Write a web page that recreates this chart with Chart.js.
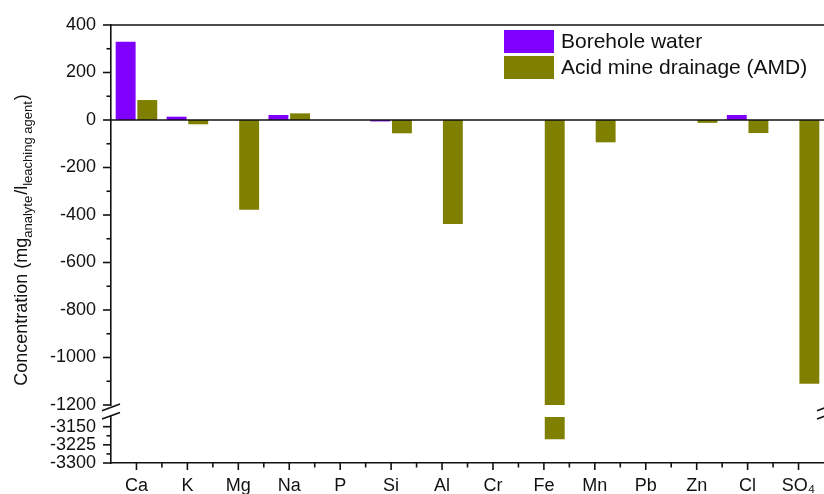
<!DOCTYPE html>
<html>
<head>
<meta charset="utf-8">
<script src="https://cdn.jsdelivr.net/npm/chart.js@4.4.1/dist/chart.umd.min.js"></script>
<style>
  html, body { margin: 0; padding: 0; background: #ffffff; }
  #wrap { width: 824px; height: 494px; position: relative; }
</style>
</head>
<body>
<div id="wrap"><canvas id="chart"></canvas></div>
<script>
// Elements analysed
const elements = ['Ca', 'K', 'Mg', 'Na', 'P', 'Si', 'Al', 'Cr', 'Fe', 'Mn', 'Pb', 'Zn', 'Cl', 'SO₄'];

// Concentration change, mg analyte per litre of leaching agent
const boreholeWater    = [329, 14, 0, 21, 0, -6, 0, 0, 0, 0, 0, 0, 21, 0];
const acidMineDrainage = [84, -18, -378, 28, 0, -56, -438, 0, -3202, -94, 0, -12, -55, -1110];

// Broken value axis: upper and lower segments
const upperTicks = [400, 200, 0, -200, -400, -600, -800, -1000, -1200];
const lowerTicks = [-3150, -3225, -3300];
const upperRange = [-1200, 400];
const lowerRange = [-3300, -3110];

const seriesLabels = ['Borehole water', 'Acid mine drainage (AMD)'];
const seriesColors = ['#8000ff', '#808000'];

const FONT = "'Liberation Sans', Arial, Helvetica, sans-serif";

// Bars in the upper segment stop at the break; the rest continues below it
const amdUpper = acidMineDrainage.map(v => Math.max(v, upperRange[0]));
const amdLower = acidMineDrainage.map(v => v < lowerRange[1] ? [lowerRange[1], v] : null);
const bhUpper  = boreholeWater.map(v => Math.max(v, upperRange[0]));

function line(ctx, x1, y1, x2, y2) {
  ctx.beginPath(); ctx.moveTo(x1, y1); ctx.lineTo(x2, y2); ctx.stroke();
}

// Frame, zero line, tick marks and axis-break symbols
const axisDecor = {
  id: 'axisDecor',
  afterDatasetsDraw(chart) {
    const { ctx, chartArea: a, scales } = chart;
    const x = scales.x, yU = scales.yUp, yL = scales.yLow;
    ctx.save();
    ctx.strokeStyle = '#111';
    ctx.lineWidth = 1.6;
    ctx.lineCap = 'butt';

    // zero line and top frame
    const y0 = yU.getPixelForValue(0);
    line(ctx, a.left, y0, a.right, y0);
    line(ctx, a.left, a.top, a.right, a.top);

    // value-axis ticks (outward)
    const axisX = yU.right;
    const majorLen = 8, minorLen = 4.5;
    const drawY = (scale, majors) => {
      majors.forEach(v => {
        const p = scale.getPixelForValue(v);
        line(ctx, axisX - majorLen, p, axisX, p);
      });
      for (let i = 0; i < majors.length - 1; i++) {
        const p = scale.getPixelForValue((majors[i] + majors[i + 1]) / 2);
        line(ctx, axisX - minorLen, p, axisX, p);
      }
    };
    drawY(yU, upperTicks);
    drawY(yL, lowerTicks);

    // category-axis ticks: major at centres, minor at boundaries
    const axisY = x.top;
    const half = (x.getPixelForValue(1) - x.getPixelForValue(0)) / 2;
    elements.forEach((_, i) => {
      const p = x.getPixelForValue(i);
      line(ctx, p, axisY, p, axisY + 7);
      if (i > 0) line(ctx, p - half, axisY, p - half, axisY + 4.5);
    });

    // break symbols on both vertical axes
    const g0 = yU.bottom, g1 = yL.top;
    const slash = (cx, cy) => line(ctx, cx - 9, cy + 3.3, cx + 9, cy - 3.3);
    [axisX, a.right + 2].forEach(cx => {
      slash(cx, g0 + 2.4);
      slash(cx, g1 - 1.3);
    });
    ctx.restore();
  }
};

// Legend in the top-right corner of the plot
const innerLegend = {
  id: 'innerLegend',
  afterDraw(chart) {
    const { ctx } = chart;
    ctx.save();
    ctx.font = `21px ${FONT}`;
    ctx.textBaseline = 'middle';
    seriesLabels.forEach((label, i) => {
      const top = 30 + i * 26;
      ctx.fillStyle = seriesColors[i];
      ctx.fillRect(504, top, 50, 23);
      ctx.fillStyle = '#111';
      ctx.fillText(label, 561, top + 12.5);
    });
    ctx.restore();
  }
};

// Rotated value-axis title with subscripts
const axisTitle = {
  id: 'axisTitle',
  afterDraw(chart) {
    const { ctx, chartArea: a } = chart;
    const parts = [
      ['Concentration (mg', false],
      ['analyte', true],
      ['/l', false],
      ['leaching agent', true],
      [')', false]
    ];
    const big = `18px ${FONT}`, small = `13px ${FONT}`;
    ctx.save();
    let total = 0;
    parts.forEach(([t, sub]) => { ctx.font = sub ? small : big; total += ctx.measureText(t).width; });
    const cy = (a.top + a.bottom) / 2 - 3;
    ctx.translate(27, cy);
    ctx.rotate(-Math.PI / 2);
    ctx.fillStyle = '#111';
    ctx.textBaseline = 'alphabetic';
    let px = -total / 2;
    parts.forEach(([t, sub]) => {
      ctx.font = sub ? small : big;
      ctx.fillText(t, px, sub ? 4.5 : 0);
      px += ctx.measureText(t).width + (sub ? 1 : 0);
    });
    ctx.restore();
  }
};

const valueAxisBase = {
  type: 'linear',
  position: 'left',
  stack: 'concentration',
  stacked: false,
  grid: { display: false, drawTicks: true, tickLength: 8 },
  border: { display: true, color: '#111', width: 1.6 },
  ticks: {
    color: '#111',
    font: { family: FONT, size: 18 },
    padding: 7,
    autoSkip: false,
    callback: v => String(v)
  },
  afterFit(scale) { scale.width = 111; }
};

new Chart(document.getElementById('chart'), {
  type: 'bar',
  data: {
    labels: elements,
    datasets: [
      { label: seriesLabels[0], data: bhUpper, backgroundColor: seriesColors[0], yAxisID: 'yUp', stack: 'bh' },
      { label: seriesLabels[1], data: amdUpper, backgroundColor: seriesColors[1], yAxisID: 'yUp', stack: 'amd' },
      { label: seriesLabels[1], data: amdLower, backgroundColor: seriesColors[1], yAxisID: 'yLow', stack: 'amd' }
    ]
  },
  options: {
    responsive: true,
    maintainAspectRatio: false,
    animation: false,
    layout: { padding: { top: 25, right: 0, left: 0, bottom: 0 } },
    datasets: { bar: { categoryPercentage: 0.85, barPercentage: 0.92, borderWidth: 0 } },
    plugins: { legend: { display: false }, tooltip: { enabled: false } },
    scales: {
      x: {
        type: 'category',
        grid: { display: false, drawTicks: true, tickLength: 7 },
        border: { display: true, color: '#111', width: 1.6 },
        ticks: { color: '#111', font: { family: FONT, size: 18 }, padding: 5, maxRotation: 0, autoSkip: false },
        afterFit(scale) { scale.height = 31; }
      },
      yUp: Object.assign({}, valueAxisBase, {
        weight: 3,
        stackWeight: 380,
        min: upperRange[0],
        max: upperRange[1],
        afterBuildTicks(scale) { scale.ticks = upperTicks.map(v => ({ value: v })); }
      }),
      yGap: {
        type: 'linear',
        position: 'left',
        stack: 'concentration',
        weight: 2,
        stackWeight: 12,
        min: 0, max: 1,
        grid: { display: false, drawTicks: false },
        border: { display: false },
        ticks: { display: false },
        afterFit(scale) { scale.width = 111; }
      },
      yLow: Object.assign({}, valueAxisBase, {
        weight: 1,
        stackWeight: 46,
        min: lowerRange[0],
        max: lowerRange[1],
        afterBuildTicks(scale) { scale.ticks = lowerTicks.map(v => ({ value: v })); }
      })
    }
  },
  plugins: [axisDecor, innerLegend, axisTitle]
});
</script>
</body>
</html>
